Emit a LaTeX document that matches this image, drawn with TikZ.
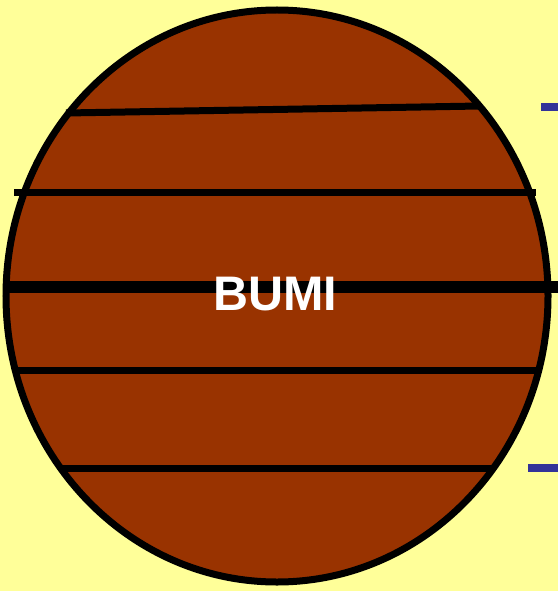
\documentclass[tikz,border=0pt]{standalone}
\usepackage{fontspec}
\setsansfont{Liberation Sans}
\definecolor{bgyellow}{HTML}{FFFF99}
\definecolor{earthbrown}{HTML}{993300}
\definecolor{markblue}{HTML}{333399}
\begin{document}
\begin{tikzpicture}[x=1pt, y=-1pt,
    band/.style={line width=7pt, black},
    tick/.style={line width=8pt, markblue}]
        % ==== DEFINITIONS ====
        \def\Cx{277} % centre x
        \def\Cy{296} % centre y
        \def\Rx{271} % horizontal radius
        \def\Ry{286} % vertical radius

        % ==== BACKGROUND ====
        \fill[bgyellow] (0,0) rectangle (558,591);
        \useasboundingbox (0,0) rectangle (558,591);

        % ==== EARTH ====
        \filldraw[earthbrown, draw=black, line width=7pt] (\Cx,\Cy) ellipse [x radius=\Rx, y radius=\Ry];

        % ==== LATITUDE LINES ====
        \draw[band] (66,113) -- (480,106);
        \draw[band] (14,192) -- (536,192);
        \draw[black, line width=12pt] (6,287) -- (558,287);
        \draw[band] (16,370) -- (537,370);
        \draw[band] (60,468) -- (495,468);

        % ==== BLUE MARKS ====
        \draw[tick] (541,107.5) -- (558,107.5);
        \draw[tick] (528,468) -- (558,468);

        % ==== LABEL ====
        \node[text=white, font=\sffamily\bfseries\fontsize{48.5}{50}\selectfont, inner sep=0pt] (bumi) at (275,294.5) {BUMI};

    \end{tikzpicture}
\end{document}
